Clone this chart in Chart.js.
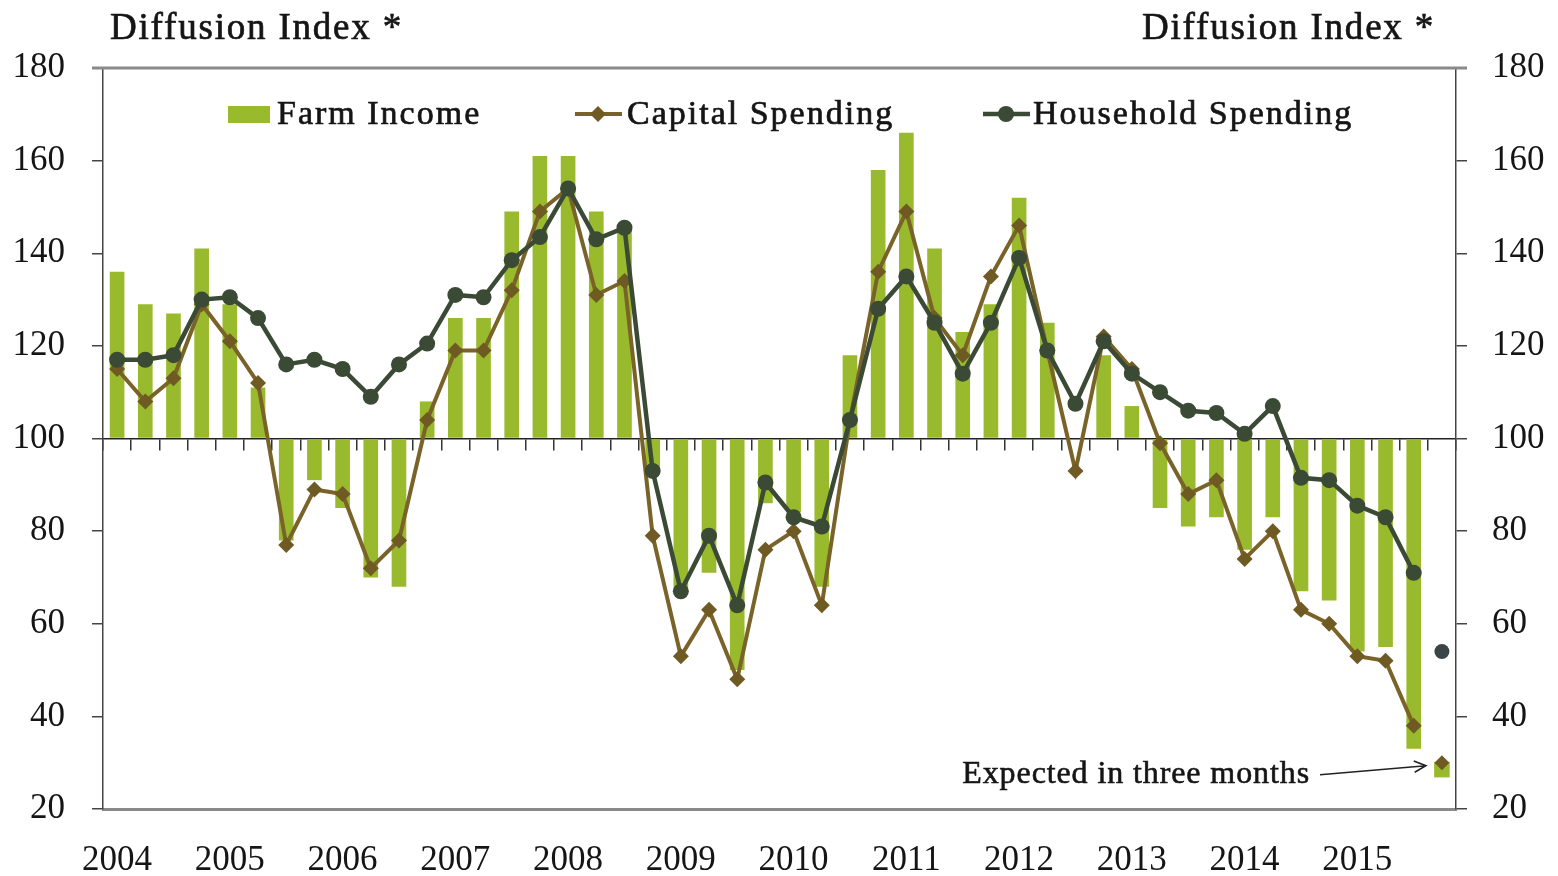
<!DOCTYPE html>
<html>
<head>
<meta charset="utf-8">
<title>Diffusion Index</title>
<script src="https://cdn.jsdelivr.net/npm/chart.js@4.4.1/dist/chart.umd.min.js"></script>
<style>
  html, body { margin: 0; padding: 0; background: #fff; }
  #wrap { width: 1558px; height: 876px; position: relative; }
</style>
</head>
<body>
<div id="wrap"><canvas id="diffusionChart"></canvas></div>
<script>
// Year tick labels (shown on the first quarter of each year)
const years = ['2004', '2005', '2006', '2007', '2008', '2009', '2010', '2011', '2012', '2013', '2014', '2015'];

// Quarterly readings, 2004 Q1 .. 2015 Q3
const farmIncome = [136, 129, 127, 141, 129, 111, 78, 91, 85, 70, 68, 108,
    126, 126, 149, 161, 161, 149, 145, 93, 67, 71, 50, 86,
    84, 68, 118, 158, 166, 141, 123, 129, 152, 125, 100, 118,
    107, 85, 81, 83, 76, 83, 67, 65, 54, 55, 33];
const capitalSpending = [115, 108, 113, 129, 121, 112, 77, 89, 88, 72, 78, 104,
    119, 119, 132, 149, 154, 131, 134, 79, 53, 63, 48, 76,
    80, 64, 104, 136, 149, 126, 118, 135, 146, 119, 93, 122,
    115, 99, 88, 91, 74, 80, 63, 60, 53, 52, 38];
const householdSpending = [117, 117, 118, 130, 130.5, 126, 116, 117, 115, 109, 116, 120.5,
    131, 130.5, 138.5, 143.5, 154, 143, 145.5, 93, 67, 79, 64, 90.5,
    83, 81, 104, 128, 135, 125, 114, 125, 139, 119, 107.5, 121,
    114, 110, 106, 105.5, 101, 107, 91.5, 91, 85.5, 83, 71];

// Expected in three months (one quarter after the last reading)
const expectedFarm = 28.5;
const expectedCapital = 30;
const expectedHousehold = 54;

// 48 quarterly categories
const quarters = [];
years.forEach(y => {
    for (let q = 1; q <= 4; q++) quarters.push(y + ' Q' + q);
});

function expectedOnly(value) {
    const arr = new Array(quarters.length - 1).fill(null);
    arr.push(value);
    return arr;
}

const FONT = "'Liberation Serif', 'DejaVu Serif', serif";
const farmColor = '#9aba2d';
const capitalColor = '#7a6328';
const householdColor = '#3a4a34';

// text with a faint outline so it reads a bit heavier
function heavyText(ctx, text, x, y) {
    ctx.fillText(text, x, y);
    ctx.strokeText(text, x, y);
}

// Titles, legend inside the plot, top frame line and the arrow note
const decorations = {
    id: 'decorations',
    afterDraw(chart) {
        const { ctx, chartArea, scales } = chart;
        const left = chartArea.left, right = chartArea.right, top = chartArea.top;
        ctx.save();

        // top frame line
        ctx.strokeStyle = '#8a8a8a';
        ctx.lineWidth = 3;
        ctx.beginPath();
        ctx.moveTo(left - 11, top);
        ctx.lineTo(right + 11, top);
        ctx.stroke();

        ctx.fillStyle = '#151515';
        ctx.strokeStyle = '#151515';
        ctx.lineWidth = 0.7;
        ctx.textBaseline = 'middle';
        ctx.font = '37px ' + FONT;
        ctx.letterSpacing = '1.8px';
        ctx.textAlign = 'left';
        heavyText(ctx, 'Diffusion Index *', left + 7, 29);
        ctx.textAlign = 'right';
        heavyText(ctx, 'Diffusion Index *', right - 21, 29);

        // legend
        const ly = top + 46;
        ctx.font = '34px ' + FONT;
        ctx.letterSpacing = '2px';
        ctx.textAlign = 'left';
        ctx.fillStyle = farmColor;
        ctx.fillRect(left + 125, ly - 8, 42, 17);
        ctx.fillStyle = '#151515';
        heavyText(ctx, 'Farm Income', left + 174, ly + 1);

        ctx.strokeStyle = capitalColor;
        ctx.lineWidth = 4;
        ctx.beginPath();
        ctx.moveTo(left + 472, ly);
        ctx.lineTo(left + 519, ly);
        ctx.stroke();
        ctx.fillStyle = '#6f5a24';
        ctx.beginPath();
        ctx.moveTo(left + 495, ly - 8);
        ctx.lineTo(left + 503, ly);
        ctx.lineTo(left + 495, ly + 8);
        ctx.lineTo(left + 487, ly);
        ctx.closePath();
        ctx.fill();
        ctx.fillStyle = '#151515';
        ctx.strokeStyle = '#151515';
        ctx.lineWidth = 0.7;
        heavyText(ctx, 'Capital Spending', left + 524, ly + 1);

        ctx.strokeStyle = householdColor;
        ctx.lineWidth = 4.5;
        ctx.beginPath();
        ctx.moveTo(left + 880, ly);
        ctx.lineTo(left + 927, ly);
        ctx.stroke();
        ctx.fillStyle = householdColor;
        ctx.beginPath();
        ctx.arc(left + 903, ly, 8, 0, Math.PI * 2);
        ctx.fill();
        ctx.fillStyle = '#151515';
        ctx.strokeStyle = '#151515';
        ctx.lineWidth = 0.7;
        heavyText(ctx, 'Household Spending', left + 930, ly + 1);

        // note with arrow pointing at the expected values
        const tipX = scales.x.getPixelForValue(quarters.length - 1) - 16;
        const tipY = scales.y.getPixelForValue(expectedCapital) + 3;
        const textRight = right - 146;
        ctx.font = '32px ' + FONT;
        ctx.letterSpacing = '0.9px';
        ctx.textAlign = 'right';
        ctx.lineWidth = 0.6;
        heavyText(ctx, 'Expected in three months', textRight, tipY + 9);
        ctx.strokeStyle = '#222';
        ctx.lineWidth = 1.6;
        const sx = textRight + 10, sy = tipY + 9;
        ctx.beginPath();
        ctx.moveTo(sx, sy);
        ctx.lineTo(tipX, tipY);
        const ang = Math.atan2(tipY - sy, tipX - sx);
        ctx.moveTo(tipX - 13 * Math.cos(ang - 0.45), tipY - 13 * Math.sin(ang - 0.45));
        ctx.lineTo(tipX, tipY);
        ctx.lineTo(tipX - 13 * Math.cos(ang + 0.45), tipY - 13 * Math.sin(ang + 0.45));
        ctx.stroke();

        ctx.restore();
    }
};

const tickFont = { family: FONT, size: 35 };

new Chart(document.getElementById('diffusionChart'), {
    type: 'bar',
    data: {
        labels: quarters,
        datasets: [
            {
                type: 'line', label: 'Household Spending', data: householdSpending,
                borderColor: householdColor, backgroundColor: householdColor,
                borderWidth: 4.5, tension: 0, pointStyle: 'circle', pointRadius: 8,
                pointBorderWidth: 0, order: 1
            },
            {
                type: 'line', label: 'Capital Spending', data: capitalSpending,
                borderColor: capitalColor, backgroundColor: '#6f5a24',
                borderWidth: 4, tension: 0, pointStyle: 'rectRot', pointRadius: 8,
                pointBorderWidth: 0, order: 3
            },
            {
                label: 'Farm Income', data: farmIncome, base: 100,
                backgroundColor: farmColor, categoryPercentage: 1, barPercentage: 0.52,
                order: 5
            },
            {
                type: 'line', label: 'Household expected', data: expectedOnly(expectedHousehold),
                showLine: false, pointStyle: 'circle', pointRadius: 7.5, pointBorderWidth: 0,
                backgroundColor: '#3b4548', order: 0
            },
            {
                type: 'line', label: 'Capital expected', data: expectedOnly(expectedCapital),
                showLine: false, pointStyle: 'rectRot', pointRadius: 7.5, pointBorderWidth: 0,
                backgroundColor: '#6f5a24', order: 2
            },
            {
                type: 'line', label: 'Farm expected', data: expectedOnly(expectedFarm),
                showLine: false, pointStyle: 'rect', pointRadius: 11, pointBorderWidth: 0,
                backgroundColor: farmColor, order: 4
            }
        ]
    },
    options: {
        responsive: true,
        maintainAspectRatio: false,
        animation: false,
        layout: { padding: { top: 68, left: 0, right: 0, bottom: 0 } },
        plugins: {
            legend: { display: false },
            tooltip: { enabled: false }
        },
        scales: {
            x: {
                position: 'bottom',
                offset: true,
                grid: { display: false, drawTicks: false },
                border: { color: '#8a8a8a', width: 3 },
                ticks: {
                    autoSkip: false, maxRotation: 0, padding: 31,
                    font: tickFont, color: '#151515',
                    callback: (v, i) => (i % 4 === 0 ? years[i / 4] : '')
                },
                afterFit: s => { s.height = 67; }
            },
            xTicks: {
                type: 'category',
                position: { y: 100 },
                offset: true,
                grid: { offset: true, drawOnChartArea: false, tickLength: 11, color: '#333', lineWidth: 1.5 },
                border: { color: '#222', width: 1.5 },
                ticks: { display: false }
            },
            y: {
                position: 'left', min: 20, max: 180,
                ticks: { stepSize: 20, padding: 27, font: tickFont, color: '#151515' },
                grid: { drawOnChartArea: false, tickLength: 11, color: '#444', lineWidth: 1.5 },
                border: { color: '#444', width: 1.5 },
                afterFit: s => { s.width = 103; }
            },
            y2: {
                position: 'right', min: 20, max: 180,
                ticks: { stepSize: 20, padding: 25, font: tickFont, color: '#151515' },
                grid: { drawOnChartArea: false, tickLength: 11, color: '#444', lineWidth: 1.5 },
                border: { color: '#444', width: 1.5 },
                afterFit: s => { s.width = 102; }
            }
        }
    },
    plugins: [decorations]
});
</script>
</body>
</html>
